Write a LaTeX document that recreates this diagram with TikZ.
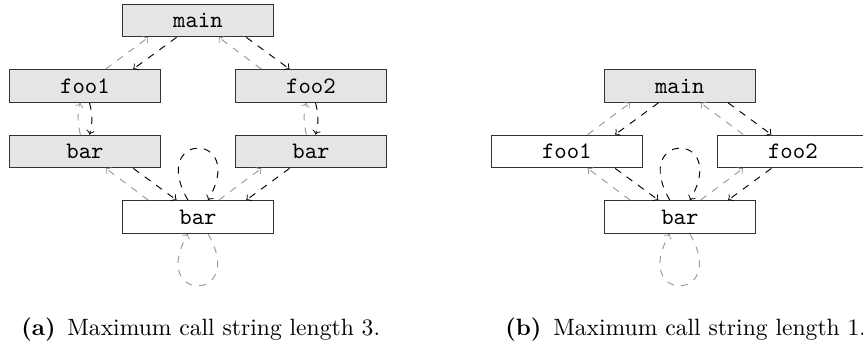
\documentclass[tikz,border=0pt]{standalone}
\usetikzlibrary{positioning}

\begin{document}
\begin{tikzpicture}
    [
        node distance=9.76mm and 16.84mm, on grid, auto,
        grey_node/.style={rectangle, draw=black!80, fill=black!10, minimum width=22.6mm, minimum height=4.9mm, font=\ttfamily},
        white_node/.style={rectangle, draw=black!80, fill=white, minimum width=22.6mm, minimum height=4.9mm, font=\ttfamily},
    ]
        \useasboundingbox (-2.95,0.305) rectangle (9.909,-4.865) ;
        % (a) call string length 3
        \node[grey_node] (main) {main} ;
        \node[grey_node] (foo1) [below left = of main] {foo1} ;
        \node[grey_node] (foo2) [below right = of main] {foo2} ;
        \node[grey_node] (bar1) [below = of foo1] {bar} ;
        \node[grey_node] (bar2) [below = of foo2] {bar} ;
        \node[white_node] (bar) [below right = of bar1] {bar} ;
        \draw[->, dashed, color=black] ([xshift=-3.2mm]main.south) -- ([xshift=7.2mm]foo1.north) ;
        \draw[->, dashed, color=black!40] ([xshift=3.1mm]foo1.north) -- ([xshift=-7.4mm]main.south) ;
        \draw[->, dashed, color=black] ([xshift=7.2mm]main.south) -- ([xshift=-3.2mm]foo2.north) ;
        \draw[->, dashed, color=black!40] ([xshift=-7.4mm]foo2.north) -- ([xshift=3.1mm]main.south) ;
        \draw[->, dashed, color=black] (foo1) to[bend left=15] (bar1) ;
        \draw[->, dashed, color=black!40] (bar1) to[bend left=15] (foo1) ;
        \draw[->, dashed, color=black] (foo2) to[bend left=15] (bar2) ;
        \draw[->, dashed, color=black!40] (bar2) to[bend left=15] (foo2) ;
        \draw[->, dashed, color=black] ([xshift=7.2mm]bar1.south) -- ([xshift=-3.2mm]bar.north) ;
        \draw[->, dashed, color=black!40] ([xshift=-7.4mm]bar.north) -- ([xshift=3.1mm]bar1.south) ;
        \draw[->, dashed, color=black] ([xshift=-3.2mm]bar2.south) -- ([xshift=7.2mm]bar.north) ;
        \draw[->, dashed, color=black!40] ([xshift=3.1mm]bar.north) -- ([xshift=-7.4mm]bar2.south) ;
        \draw[->, dashed, color=black] ([xshift=-1.5mm]bar.north) to[out=120, in=60, distance=11.9mm] ([xshift=1.5mm]bar.north) ;
        \draw[->, dashed, color=black!40] ([xshift=1.5mm]bar.south) to[out=-60, in=-120, distance=11.9mm] ([xshift=-1.5mm]bar.south) ;
        \node[anchor=base west] (capa) at (-2.757,-4.70) {\textbf{(a)}\hspace{0.5em}Maximum call string length 3.} ;
        % (b) call string length 1
        \node[grey_node] (bmain) at (7.18,-0.976) {main} ;
        \node[white_node] (bfoo1) [below left = of bmain] {foo1} ;
        \node[white_node] (bfoo2) [below right = of bmain] {foo2} ;
        \node[white_node] (bbar) [below right = of bfoo1] {bar} ;
        \draw[->, dashed, color=black] ([xshift=-3.2mm]bmain.south) -- ([xshift=7.2mm]bfoo1.north) ;
        \draw[->, dashed, color=black!40] ([xshift=3.1mm]bfoo1.north) -- ([xshift=-7.4mm]bmain.south) ;
        \draw[->, dashed, color=black] ([xshift=7.2mm]bmain.south) -- ([xshift=-3.2mm]bfoo2.north) ;
        \draw[->, dashed, color=black!40] ([xshift=-7.4mm]bfoo2.north) -- ([xshift=3.1mm]bmain.south) ;
        \draw[->, dashed, color=black] ([xshift=7.2mm]bfoo1.south) -- ([xshift=-3.2mm]bbar.north) ;
        \draw[->, dashed, color=black!40] ([xshift=-7.4mm]bbar.north) -- ([xshift=3.1mm]bfoo1.south) ;
        \draw[->, dashed, color=black] ([xshift=-3.2mm]bfoo2.south) -- ([xshift=7.2mm]bbar.north) ;
        \draw[->, dashed, color=black!40] ([xshift=3.1mm]bbar.north) -- ([xshift=-7.4mm]bfoo2.south) ;
        \draw[->, dashed, color=black] ([xshift=-1.5mm]bbar.north) to[out=120, in=60, distance=11.9mm] ([xshift=1.5mm]bbar.north) ;
        \draw[->, dashed, color=black!40] ([xshift=1.5mm]bbar.south) to[out=-60, in=-120, distance=11.9mm] ([xshift=-1.5mm]bbar.south) ;
        \node[anchor=base west] (capb) at (4.455,-4.70) {\textbf{(b)}\hspace{0.5em}Maximum call string length 1.} ;
    \end{tikzpicture}
\end{document}
